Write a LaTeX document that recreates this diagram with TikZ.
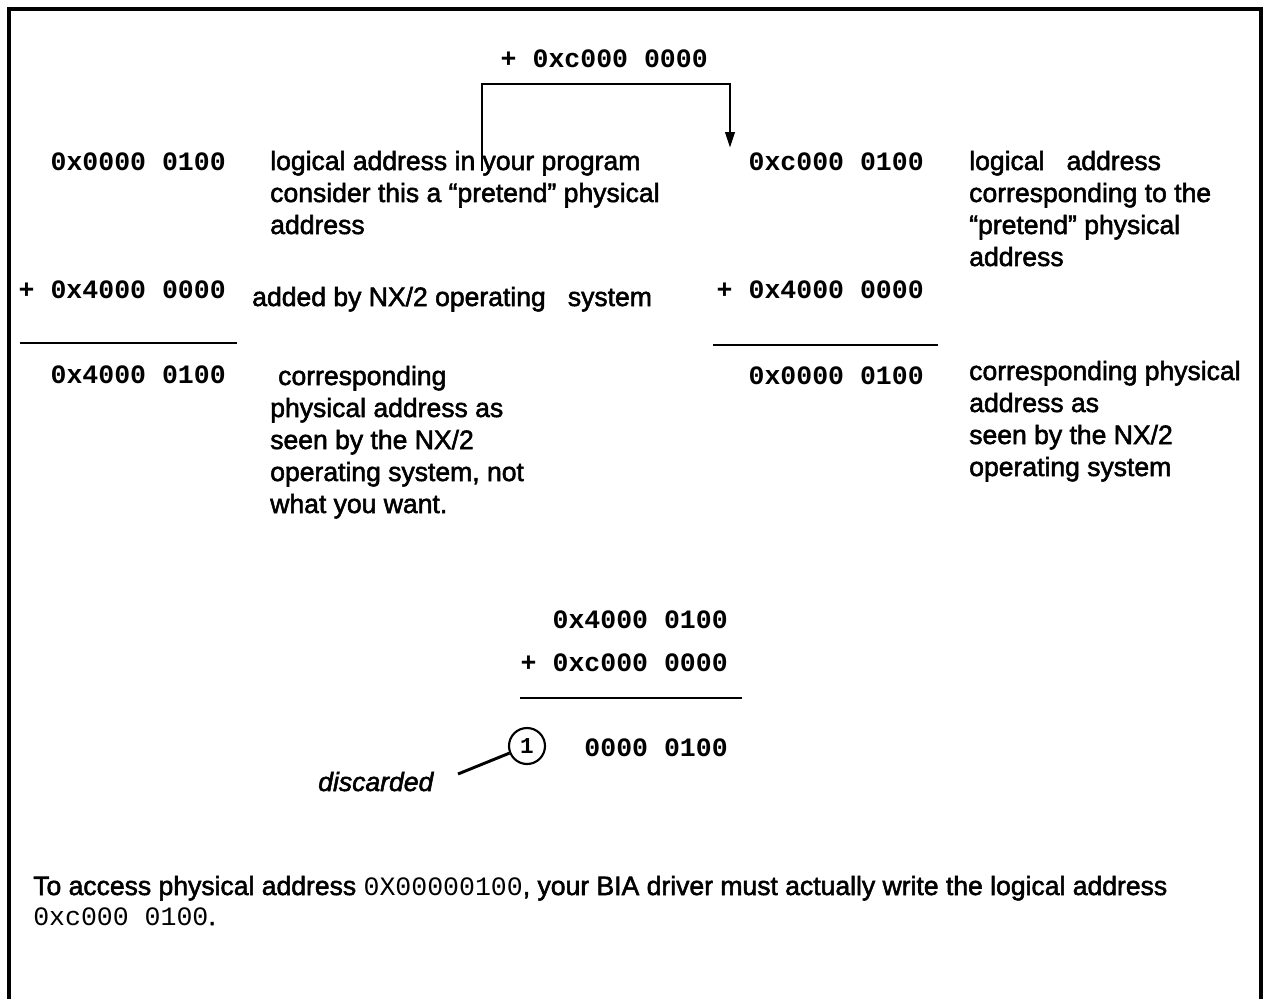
\documentclass[tikz,border=0pt]{standalone}
\usepackage{fontspec}
\setmainfont{Liberation Sans}[FakeBold=2]
\setmonofont{Liberation Mono}
\usetikzlibrary{arrows.meta}
% first-line-baseline stack of left-aligned lines
\newcommand{\linestack}[1]{\begin{tabular}[t]{@{}l@{}}#1\end{tabular}}
\begin{document}
\begin{tikzpicture}[x=0.75pt,y=-0.75pt,
  num/.style={font=\fontsize{19.9}{24}\selectfont\ttfamily\bfseries, inner sep=0, anchor=base east},
  note/.style={font=\fontsize{19.9}{24}\selectfont, inner sep=0, anchor=base west},
  sumrule/.style={line width=2.2pt},
  frame/.style={line width=3pt},
  conn/.style={line width=2.2pt}
]
\useasboundingbox (0,0) rectangle (1264,999);
\draw[frame] (9,999) -- (9,9) -- (1261,9) -- (1261,999);

% offset added on the way to the logical address
\node[num] (offset) at (708,68) {+ 0xc000 0000};
\coordinate (armL) at (482,171);
\coordinate (armR) at (730,148);
\draw[conn, -{Triangle[length=12pt,width=7pt]}] (armL) -- (482,84) -| (armR);

% left column: what the operating system sees
\node[num] (l1) at (226,170) {0x0000 0100};
\node[num] (l2) at (226,298) {+ 0x4000 0000};
\coordinate (lr1) at (20,343);
\coordinate (lr2) at (237,343);
\draw[sumrule] (lr1) -- (lr2);
\node[num] (l3) at (226,383) {0x4000 0100};

\node[note] (t1) at (270,170) {\linestack{logical address in your program\\consider this a “pretend” physical\\address}};
\node[note] (t2) at (252,306) {added by NX/2 operating\ \ \ system};
\node[note] (t3) at (270,385) {\linestack{\hspace*{6pt}corresponding\\physical address as\\seen by the NX/2\\operating system, not\\what you want.}};

% right column: the logical address to use
\node[num] (r1) at (924,170) {0xc000 0100};
\node[num] (r2) at (924,298) {+ 0x4000 0000};
\coordinate (rr1) at (713,345);
\coordinate (rr2) at (938,345);
\draw[sumrule] (rr1) -- (rr2);
\node[num] (r3) at (924,384) {0x0000 0100};

\node[note] (t4) at (969,170) {\linestack{logical\ \ \ address\\corresponding to the\\“pretend” physical\\address}};
\node[note] (t5) at (969,380) {\linestack{corresponding physical\\address as\\seen by the NX/2\\operating system}};

% wrap-around sum
\node[num] (b1) at (728,628) {0x4000 0100};
\node[num] (b2) at (728,671) {+ 0xc000 0000};
\coordinate (br1) at (520,698);
\coordinate (br2) at (742,698);
\draw[sumrule] (br1) -- (br2);
\node[num] (b3) at (728,756) {0000 0100};
\node[circle, draw, line width=1.6pt, minimum size=27pt, inner sep=0,
      font=\fontsize{17}{20}\selectfont\ttfamily\bfseries] (carry) at (527,746) {1};
\node[note, font=\fontsize{19.9}{24}\selectfont\itshape] (disc) at (318,791) {discarded};
\coordinate (lead) at (458,774);
\draw[conn] (lead) -- (carry);

% closing remark
\node[note] (foot) at (33,895) {To access physical address \texttt{0X00000100}, your BIA driver must actually write the logical address};
\node[note] (foot2) at (33,925) {\texttt{0xc000 0100}.};
\end{tikzpicture}
\end{document}
